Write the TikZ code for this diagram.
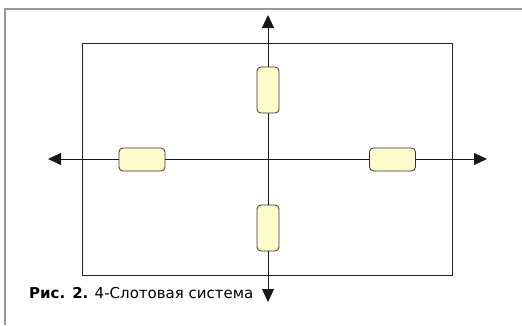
\documentclass[tikz,border=0pt]{standalone}
\usepackage{fontspec}
\setmainfont{DejaVu Sans}
\usetikzlibrary{arrows.meta}
\begin{document}
\begin{tikzpicture}[x=1pt,y=-1pt,
  slot/.style={draw=black!80,fill=yellow!20,rounded corners=4pt,line width=0.8pt,inner sep=0pt},
  axis/.style={line width=0.9pt,black!90,-{Triangle[length=13pt,width=12pt]}}]
\useasboundingbox (0,0) rectangle (522,325);
\draw[gray!80,line width=1.5pt] (5,325) -- (5,9) -- (522,9);
\draw[black!85,line width=0.8pt] (82,43) rectangle (452,275);
\coordinate (c) at (268,159);
\coordinate (top) at (268,15);
\coordinate (bot) at (268,302);
\coordinate (lft) at (48,159);
\coordinate (rgt) at (487,159);
\draw[axis] (c) -- (top);
\draw[axis] (c) -- (bot);
\draw[axis] (c) -- (lft);
\draw[axis] (c) -- (rgt);
\node[slot,minimum width=22pt,minimum height=46pt] (s1) at (268,90) {};
\node[slot,minimum width=22pt,minimum height=46pt] (s2) at (268,228) {};
\node[slot,minimum width=46pt,minimum height=23pt] (s3) at (142,159.5) {};
\node[slot,minimum width=46pt,minimum height=23pt] (s4) at (392.5,159.5) {};
\node[anchor=base west,inner sep=0pt,font=\fontsize{15}{17}\selectfont] (cap) at (29,298) {\textbf{Рис. 2.} 4-Слотовая система};
\end{tikzpicture}
\end{document}
